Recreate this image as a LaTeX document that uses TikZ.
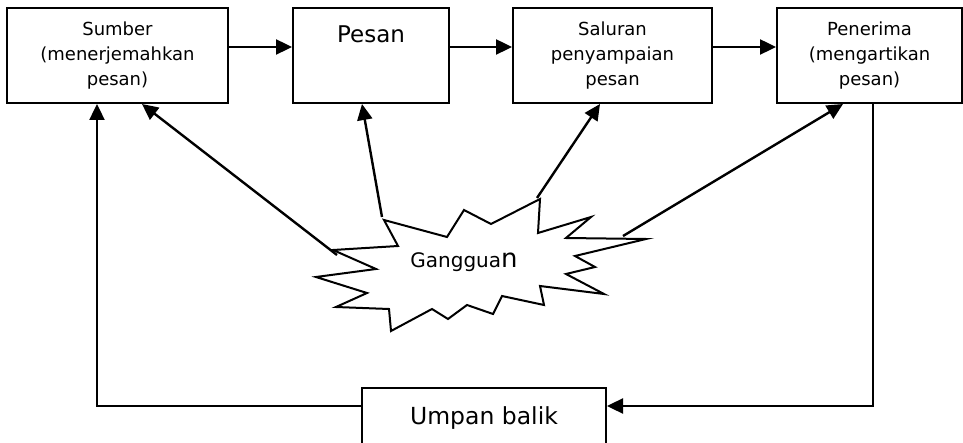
\documentclass[tikz,border=0pt]{standalone}
\usepackage{fontspec}
\setmainfont{DejaVu Sans}
\usetikzlibrary{arrows.meta,positioning}

\begin{document}
\begin{tikzpicture}[x=1pt,y=-1pt,
		box/.style={draw,line width=2pt,minimum height=95pt,align=center,inner sep=0pt,font=\fontsize{18}{25}\selectfont},
		arr/.style={line width=2.4pt,-{Triangle[length=16pt,width=15pt]}}]
		\useasboundingbox (0,0) rectangle (963,443);
		\clip (0,0) rectangle (963,443);
		
		\node[box,minimum width=221pt] (sumber) at (117.5,55.5) {Sumber\\(menerjemahkan\\pesan)};
		\node[box,minimum width=156pt,font=\fontsize{23}{28}\selectfont,text depth=42pt] (pesan) at (371,55.5) {Pesan};
		\node[box,minimum width=199pt] (saluran) at (612.5,55.5) {Saluran\\penyampaian\\pesan};
		\node[box,minimum width=185pt] (penerima) at (869.5,55.5) {Penerima\\(mengartikan\\pesan)};
		
		\draw[arr] ([yshift=8.5pt]sumber.east) -- ([yshift=8.5pt]pesan.west);
		\draw[arr] ([yshift=8.5pt]pesan.east) -- ([yshift=8.5pt]saluran.west);
		\draw[arr] ([yshift=8.5pt]saluran.east) -- ([yshift=8.5pt]penerima.west);
		
		% gangguan
		\draw[line width=2pt] (384,220) -- (398,246) -- (333,250) -- (376,269) -- (316,277) -- (367,293)
			-- (336,307) -- (389,309) -- (391,331) -- (432,309) -- (448,319) -- (467,305) -- (493,314)
			-- (502,296) -- (544,305) -- (540,286) -- (604,294) -- (566,274) -- (595,267) -- (575,256)
			-- (646,239) -- (566,238) -- (591,217) -- (538,233) -- (540,199) -- (491,224) -- (464,210)
			-- (447,237) -- cycle;
		\node (gangguan) at (464,262) {\fontsize{20}{24}\selectfont Ganggua{\fontsize{26}{30}\selectfont n}};
		
		\coordinate (g1) at (337,255);
		\coordinate (g2) at (382,217);
		\coordinate (g3) at (537,198);
		\coordinate (g4) at (623,236);
		\draw[arr] (g1) -- ([xshift=24.5pt]sumber.south);
		\draw[arr] (g2) -- ([xshift=-9pt]pesan.south);
		\draw[arr] (g3) -- ([xshift=-12.5pt]saluran.south);
		\draw[arr] (g4) -- ([xshift=-26.5pt]penerima.south);
		
		% umpan balik
		\node[draw,line width=2pt,anchor=north,minimum width=244pt,minimum height=80pt,inner sep=0pt,
			text depth=24pt,font=\fontsize{23.5}{28}\selectfont] (umpan) at (484,387) {Umpan balik};
		\coordinate (fb) at (0,406);
		\draw[arr] (umpan.west |- fb) -| ([xshift=-20.5pt]sumber.south);
		\draw[arr] ([xshift=3.5pt]penerima.south) |- (umpan.east |- fb);
	\end{tikzpicture}
\end{document}
